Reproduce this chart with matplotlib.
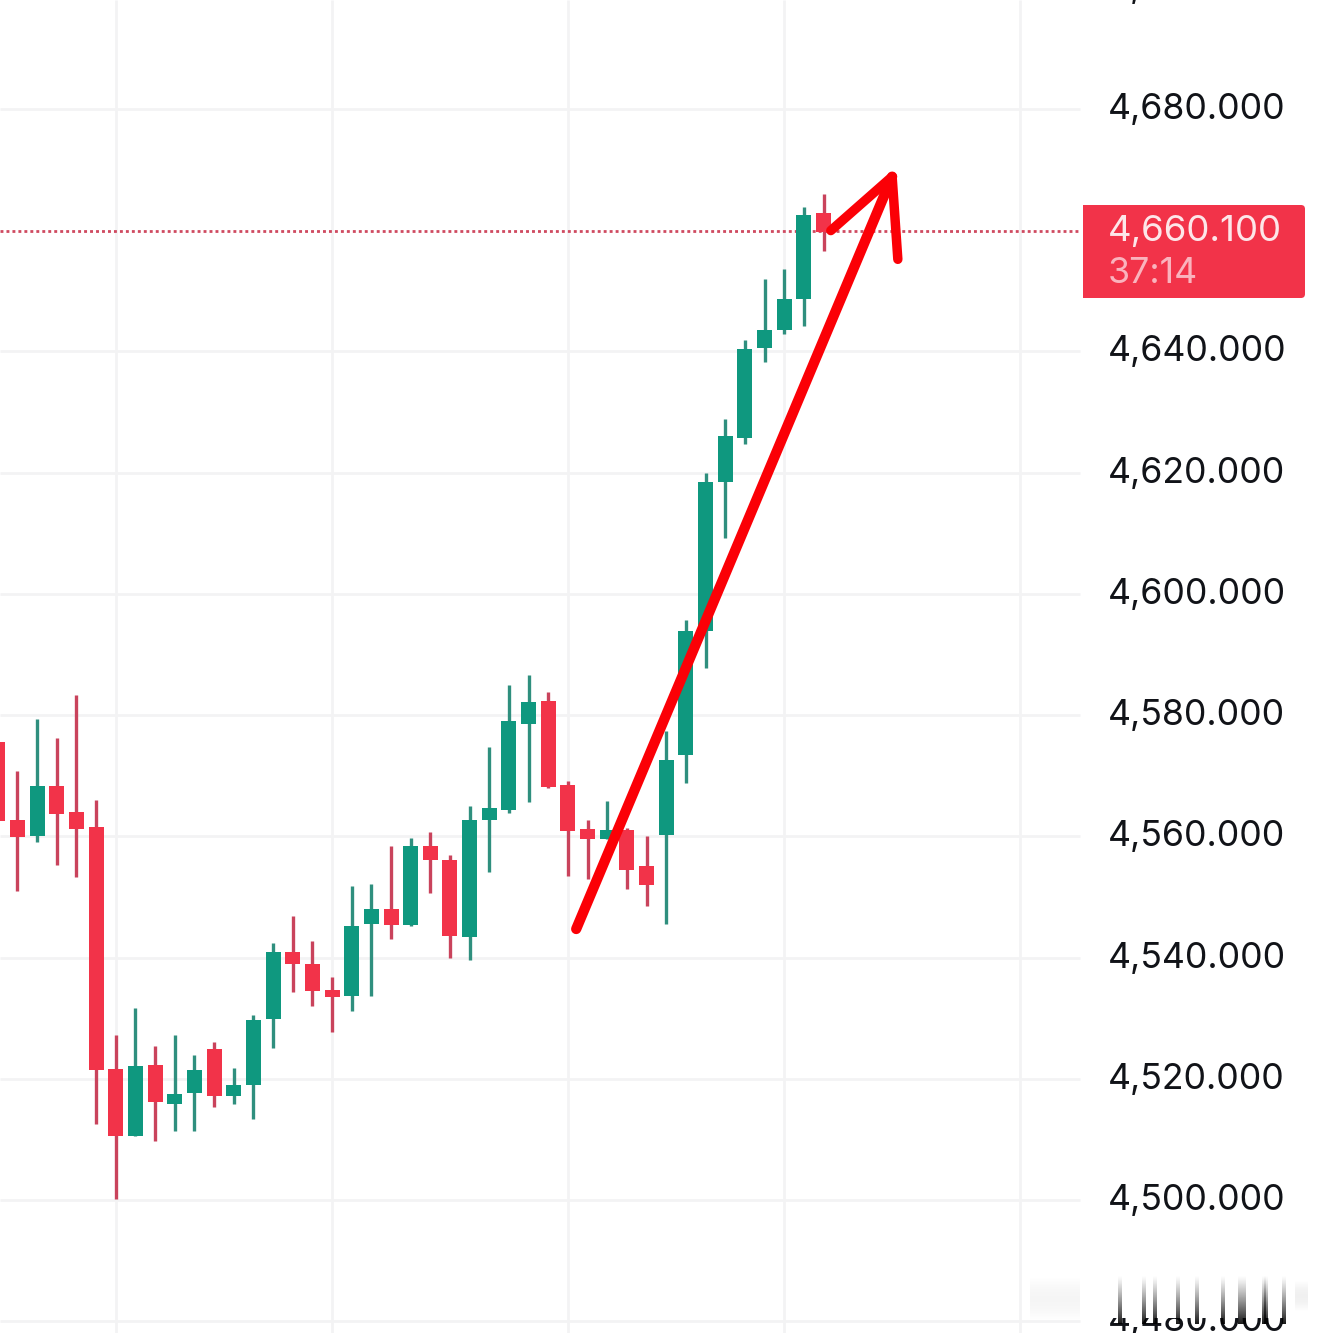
import numpy as np
import matplotlib
matplotlib.use("Agg")
import matplotlib.pyplot as plt
from matplotlib.patches import FancyBboxPatch, Rectangle

W, H = 1320, 1333

# ---------------------------------------------------------------- data
highs = [4577.0, 4570.78, 4579.36, 4576.18, 4583.32, 4565.98, 4527.25, 4531.71, 4525.42, 4527.25, 4523.97,
         4526.09, 4521.79, 4530.55, 4542.42, 4546.87, 4542.75, 4536.73, 4551.79, 4552.12, 4558.39, 4559.66,
         4560.65, 4556.85, 4564.99, 4574.66, 4584.95, 4586.60, 4583.74, 4569.06, 4562.63, 4565.81, 4561.41,
         4560.04, 4577.36, 4595.68, 4619.87, 4628.78, 4641.81, 4651.92, 4653.57, 4663.74, 4665.94]
lows = [4561.0, 4551.05, 4559.13, 4555.29, 4553.33, 4512.59, 4500.12, 4510.48, 4509.65, 4511.32, 4511.32,
        4515.27, 4515.77, 4513.44, 4525.13, 4534.39, 4531.94, 4527.65, 4531.18, 4533.65, 4543.11, 4545.14,
        4550.69, 4539.97, 4539.64, 4554.16, 4563.89, 4565.70, 4568.01, 4553.44, 4553.00, 4559.60, 4551.35,
        4548.55, 4545.58, 4568.84, 4587.81, 4609.15, 4624.76, 4638.18, 4642.91, 4644.23, 4656.60]
opens = [4575.57, 4562.70, 4559.96, 4568.26, 4563.98, 4561.52, 4521.63, 4510.48, 4522.30, 4515.77, 4517.72,
         4524.91, 4517.22, 4518.89, 4529.93, 4540.91, 4538.96, 4534.66, 4533.65, 4545.58, 4548.00, 4545.36,
         4558.39, 4556.08, 4543.44, 4562.68, 4564.38, 4578.57, 4582.31, 4568.45, 4561.20, 4559.60, 4561.03,
         4555.09, 4560.26, 4573.45, 4593.86, 4618.49, 4625.75, 4640.60, 4643.57, 4648.68, 4662.81]
closes = [4562.59, 4559.80, 4568.26, 4563.75, 4561.25, 4521.52, 4510.48, 4522.12, 4516.11, 4517.50, 4521.45,
          4517.22, 4519.01, 4529.71, 4540.91, 4538.85, 4534.55, 4533.55, 4545.20, 4548.00, 4545.42, 4558.39,
          4556.08, 4543.55, 4562.68, 4564.66, 4579.01, 4582.14, 4568.12, 4560.92, 4559.60, 4561.03, 4554.49,
          4552.01, 4572.58, 4593.86, 4618.44, 4626.03, 4640.38, 4643.51, 4648.62, 4662.48, 4659.73]

price_levels = [4480, 4500, 4520, 4540, 4560, 4580, 4600, 4620, 4640, 4680, 4700]
grid_levels = [4480, 4500, 4520, 4540, 4560, 4580, 4600, 4620, 4640, 4680]
time_grid = [6, 17, 29, 40, 52]
last_price = 4660.1
countdown = "37:14"

# hand drawn arrow, bar index / price
shaft_x = [29.42, 45.49]
shaft_y = [4544.70, 4668.80]
head_x = [42.37, 45.49, 45.78]
head_y = [4659.90, 4668.80, 4655.16]

# ---------------------------------------------------------------- scales
BAR_PX = 19.66
BAR0_PX = -2.2
PX_PER_UNIT = 6.0625
GRID_4500_PX = 1200

RED, GREEN = "#f23349", "#0f987f"
RED_WICK, GREEN_WICK = "#c9435c", "#2f8f7e"
GRID = "#f3f3f4"
ARROW = "#fb0006"


def bar_at(px):
    return (px - BAR0_PX) / BAR_PX


def price_at(py):
    return 4500 + (GRID_4500_PX - py) / PX_PER_UNIT


fig = plt.figure(figsize=(W / 100, H / 100), dpi=100)
ax = fig.add_axes([0, 0, 1, 1])
ax.set_xlim(bar_at(0), bar_at(W))
ax.set_ylim(price_at(H), price_at(0))
ax.axis("off")

label_x = bar_at(1107.5)
grid_end = bar_at(1080)

# ---------------------------------------------------------------- grid
ax.hlines(grid_levels, bar_at(0), grid_end, color=GRID, lw=2, zorder=1)
ax.vlines(time_grid, price_at(H), price_at(0), color=GRID, lw=2, zorder=1)
ax.hlines(last_price - 0.2, bar_at(0), bar_at(1078), color="#cf4a60", lw=2,
          linestyles=(0, (1.05, 1.1)), zorder=2)

# ---------------------------------------------------------------- candles
idx = np.arange(len(opens))
up = np.array(closes) >= np.array(opens)
ax.vlines(idx, lows, highs, colors=[GREEN_WICK if u else RED_WICK for u in up], lw=2.4, zorder=3)
ax.bar(idx, np.abs(np.array(closes) - np.array(opens)), bottom=np.minimum(opens, closes),
       width=15 / BAR_PX, color=[GREEN if u else RED for u in up], lw=0, zorder=4)

# ---------------------------------------------------------------- labels
for lv in price_levels:
    ax.text(label_x, lv - 1.65, f"{lv:,}.000", fontsize=25.7, family="Inter", color="#111318",
            va="baseline", ha="left")

# ---------------------------------------------------------------- arrow
ax.plot(shaft_x, shaft_y, color=ARROW, lw=7.4, solid_capstyle="round", zorder=6)
ax.plot(head_x, head_y, color=ARROW, lw=6.8, solid_capstyle="round", solid_joinstyle="round", zorder=6)

# ---------------------------------------------------------------- overlay in pixels: price tag, bottom smear
ov = fig.add_axes([0, 0, 1, 1])
ov.set_xlim(0, W)
ov.set_ylim(H, 0)
ov.axis("off")
ov.patch.set_alpha(0)

ov.add_patch(FancyBboxPatch((1087, 209), 214, 85, boxstyle="round,pad=4,rounding_size=4",
                            fc=RED, ec="none", zorder=2))
ov.add_patch(Rectangle((1083, 205), 10, 93, fc=RED, ec="none", zorder=2))
ov.text(1107.5, 241, f"{last_price:,.3f}", fontsize=26.4, family="Inter", color="#fde6e9", va="baseline", zorder=3)
ov.text(1107.5, 283, countdown, fontsize=25.7, family="Inter", color="#fab3bd", va="baseline", zorder=3)

# the bottom edge of the screenshot is smeared upwards
ov.add_patch(Rectangle((1095, 1268), 200, 50, fc="white", ec="none", zorder=2))
fade = np.linspace(0, 1, 60)[:, None] ** 1.2
for z in [300, 372, 405, 473, 530, 607, 660, 672, 730, 737, 790]:
    sx = 1020 + z / 3
    rgba = np.zeros((60, 1, 4))
    rgba[..., 3] = fade * 0.9
    ov.imshow(rgba, extent=(sx - 1.8, sx + 1.8, 1324, 1275), aspect="auto", zorder=3, interpolation="bilinear")
haze = np.zeros((60, 1, 4))
haze[..., 3] = np.sin(np.linspace(0, np.pi, 60))[:, None] * 0.04
ov.imshow(haze, extent=(1030, 1080, 1322, 1276), aspect="auto", zorder=1, interpolation="bilinear")
ov.imshow(haze * 1.5, extent=(1285, 1308, 1312, 1280), aspect="auto", zorder=1, interpolation="bilinear")
ov.set_xlim(0, W)
ov.set_ylim(H, 0)

fig.savefig("out.png", dpi=100, facecolor="white")
